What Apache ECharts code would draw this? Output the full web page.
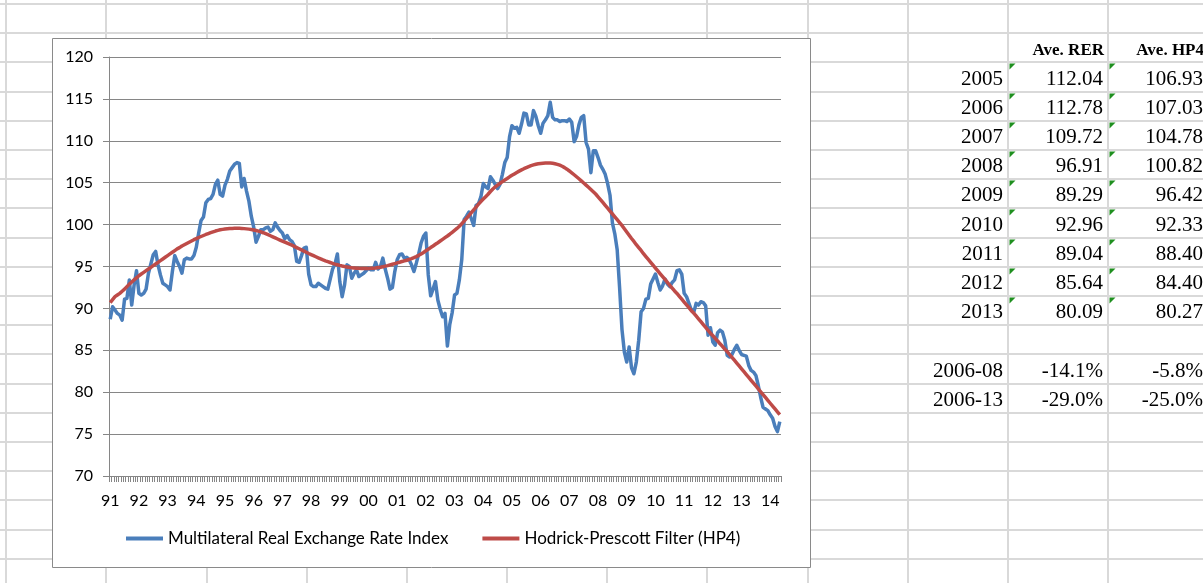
<!DOCTYPE html>
<html>
<head>
<meta charset="utf-8">
<script src="https://cdn.jsdelivr.net/npm/echarts@6/dist/echarts.min.js"></script>
<style>
  html, body { margin: 0; padding: 0; background: #fff; }
  #main { width: 1203px; height: 583px; }
</style>
</head>
<body>
<div id="main"></div>
<script>
// year labels shown on the category axis, one per 12 monthly points
const yearLabels = ['91', '92', '93', '94', '95', '96', '97', '98', '99', '00', '01', '02',
  '03', '04', '05', '06', '07', '08', '09', '10', '11', '12', '13', '14']

// Multilateral Real Exchange Rate Index, monthly from Jan 1991
const rer = [
  88.7, 90.2, 89.8, 89.4, 89.2, 88.6, 91.1, 91.2, 93.4, 90.4, 92.8, 94.5,
  91.8, 91.6, 91.8, 92.3, 94.2, 95.3, 96.4, 96.8, 95.2, 94.0, 93.0, 92.8,
  92.6, 92.2, 94.4, 96.3, 95.6, 95.0, 94.2, 95.8, 96.0, 95.9, 95.9, 96.3,
  97.3, 99.0, 100.5, 100.9, 102.6, 103.0, 103.1, 103.6, 104.8, 105.3, 103.6, 103.4,
  104.7, 105.4, 106.4, 106.8, 107.2, 107.4, 107.3, 104.5, 105.5, 104.0, 102.8, 101.0,
  99.7, 97.9, 98.6, 99.4, 99.4, 99.6, 99.7, 99.2, 99.4, 100.2, 99.7, 99.3,
  99.0, 98.3, 98.7, 98.2, 98.0, 97.5, 95.6, 95.5, 96.3, 97.2, 97.3, 94.1,
  92.8, 92.6, 92.6, 93.0, 92.8, 92.6, 92.4, 92.3, 93.5, 94.7, 95.3, 96.5,
  93.2, 91.4, 92.8, 95.2, 95.0, 93.6, 94.2, 94.6, 93.8, 94.0, 94.2, 94.5,
  94.8, 94.6, 94.6, 95.5, 94.7, 95.0, 96.0, 94.7, 93.6, 92.3, 92.5, 94.4,
  95.8, 96.4, 96.5, 96.0, 96.1, 95.8, 95.2, 94.4, 95.4, 96.5, 97.8, 98.6,
  99.0, 94.0, 91.5, 92.3, 93.2, 91.0, 89.9, 89.0, 89.4, 85.5, 88.1, 89.5,
  91.6, 91.8, 93.4, 95.8, 100.6, 101.0, 101.5, 100.7, 99.9, 102.3, 102.5, 103.3,
  104.9, 104.5, 104.3, 105.7, 105.3, 104.8, 104.3, 104.8, 106.0, 107.4, 108.0, 110.5,
  111.8, 111.5, 111.6, 110.9, 112.0, 113.3, 113.2, 111.9, 111.9, 113.6, 112.9, 111.8,
  110.9, 112.1, 112.5, 113.0, 114.6, 112.8, 112.5, 112.5, 112.3, 112.4, 112.4, 112.3,
  112.6, 112.2, 109.9, 110.5, 111.9, 112.8, 113.0, 109.8, 109.0, 106.2, 108.8, 108.8,
  108.0, 107.1, 106.6, 106.0, 104.9, 103.5, 100.2, 98.9, 97.0, 92.5, 87.5, 84.8,
  83.6, 85.4, 82.9, 82.2, 83.6, 86.2, 89.6, 90.0, 91.1, 91.2, 92.9, 93.5,
  94.1, 93.1, 92.2, 92.7, 93.5, 92.9, 92.6, 93.1, 93.4, 94.5, 94.6, 94.1,
  91.8, 91.4, 90.6, 89.8, 89.5, 90.6, 90.4, 90.8, 90.7, 90.3, 86.8, 87.7,
  86.0, 85.6, 87.1, 87.4, 87.2, 86.2, 84.4, 84.2, 84.5, 85.1, 85.6, 85.0,
  84.5, 84.4, 84.3, 83.2, 82.6, 82.4, 82.0, 80.8, 79.4, 78.2, 78.0, 77.8,
  77.3, 76.9, 75.9, 75.3, 76.5
]

// Hodrick-Prescott Filter (HP4), same months
const hp4 = [
  90.70, 91.05, 91.40, 91.60, 91.80, 92.05, 92.30, 92.60, 92.90, 93.15, 93.40, 93.65,
  93.90, 94.10, 94.30, 94.50, 94.70, 94.90, 95.10, 95.30, 95.50, 95.70, 95.90, 96.10,
  96.30, 96.50, 96.70, 96.90, 97.10, 97.25, 97.45, 97.60, 97.75, 97.90, 98.05, 98.20,
  98.33, 98.46, 98.58, 98.70, 98.82, 98.93, 99.04, 99.14, 99.23, 99.31, 99.38, 99.43,
  99.47, 99.50, 99.53, 99.54, 99.55, 99.55, 99.55, 99.54, 99.52, 99.49, 99.46, 99.42,
  99.36, 99.30, 99.22, 99.13, 99.03, 98.92, 98.80, 98.67, 98.54, 98.41, 98.28, 98.15,
  98.02, 97.90, 97.78, 97.66, 97.54, 97.40, 97.26, 97.12, 96.98, 96.84, 96.70, 96.55,
  96.42, 96.29, 96.16, 96.03, 95.91, 95.79, 95.68, 95.58, 95.48, 95.38, 95.29, 95.21,
  95.13, 95.06, 95.00, 94.95, 94.90, 94.86, 94.83, 94.80, 94.78, 94.77, 94.76, 94.76,
  94.77, 94.78, 94.80, 94.83, 94.87, 94.91, 94.96, 95.04, 95.11, 95.19, 95.27, 95.35,
  95.43, 95.51, 95.59, 95.67, 95.75, 95.84, 95.94, 96.05, 96.18, 96.33, 96.50, 96.68,
  96.87, 97.06, 97.26, 97.45, 97.65, 97.84, 98.04, 98.24, 98.44, 98.64, 98.85, 99.07,
  99.30, 99.54, 99.80, 100.10, 100.42, 100.75, 101.08, 101.42, 101.76, 102.10, 102.44, 102.76,
  103.05, 103.33, 103.62, 103.95, 104.25, 104.50, 104.72, 104.93, 105.13, 105.32, 105.50, 105.70,
  105.88, 106.05, 106.22, 106.38, 106.53, 106.67, 106.80, 106.92, 107.03, 107.12, 107.20, 107.26,
  107.30, 107.33, 107.35, 107.36, 107.34, 107.31, 107.26, 107.19, 107.09, 106.96, 106.80, 106.61,
  106.40, 106.18, 105.95, 105.71, 105.47, 105.22, 104.97, 104.71, 104.45, 104.19, 103.92, 103.65,
  103.32, 102.98, 102.64, 102.30, 101.96, 101.61, 101.27, 100.93, 100.59, 100.25, 99.90, 99.51,
  99.12, 98.73, 98.34, 97.99, 97.60, 97.26, 96.92, 96.53, 96.18, 95.84, 95.50, 95.16,
  94.82, 94.47, 94.13, 93.79, 93.45, 93.11, 92.76, 92.42, 92.08, 91.79, 91.44, 91.10,
  90.76, 90.42, 90.08, 89.73, 89.44, 89.10, 88.76, 88.41, 88.07, 87.73, 87.39, 87.04,
  86.75, 86.41, 86.12, 85.77, 85.48, 85.14, 84.85, 84.50, 84.16, 83.82, 83.48, 83.13,
  82.79, 82.45, 82.11, 81.77, 81.42, 81.08, 80.74, 80.40, 80.05, 79.71, 79.37, 79.03,
  78.68, 78.34, 78.00, 77.66, 77.32
]

// side table
const tableYears = ['2005', '2006', '2007', '2008', '2009', '2010', '2011', '2012', '2013']
const aveRer = ['112.04', '112.78', '109.72', '96.91', '89.29', '92.96', '89.04', '85.64', '80.09']
const aveHp4 = ['106.93', '107.03', '104.78', '100.82', '96.42', '92.33', '88.40', '84.40', '80.27']
const changeLabels = ['2006-08', '2006-13']
const changeRer = ['-14.1%', '-29.0%']
const changeHp4 = ['-5.8%', '-25.0%']

const months = rer.map((_, i) => yearLabels[Math.floor(i / 12)] + '-' + (i % 12 + 1))

const chart = echarts.init(document.getElementById('main'))

// spreadsheet background: cell lines of the sheet
const colX = []
for (let k = 0; k < 13; k++) colX.push(Math.round(6.3 + 100.17 * k))
const rowY = []
for (let k = 0; k < 20; k++) rowY.push(Math.round(4 + 29.2 * k))

const graphics = []
colX.forEach(x => graphics.push({
  type: 'line', z: -30, silent: true,
  shape: { x1: x, y1: 0, x2: x, y2: 583 },
  style: { stroke: '#d9d9d9', lineWidth: 2 }
}))
rowY.forEach(y => graphics.push({
  type: 'line', z: -30, silent: true,
  shape: { x1: 0, y1: y, x2: 1203, y2: y },
  style: { stroke: '#d9d9d9', lineWidth: 2 }
}))

// chart area box
graphics.push({
  type: 'rect', z: -20, silent: true,
  shape: { x: 52.5, y: 38.5, width: 758, height: 529 },
  style: { fill: '#fff', stroke: '#8a8a8a', lineWidth: 1 }
})

const serif = 'Liberation Serif, Times New Roman, serif'
function cellText(text, xRight, yMid, opts) {
  graphics.push({
    type: 'text', z: 5, silent: true,
    style: Object.assign({
      text: text, x: xRight, y: yMid,
      textAlign: 'right', textVerticalAlign: 'middle',
      align: 'right', verticalAlign: 'middle',
      fill: '#000', font: '21px ' + serif
    }, opts || {})
  })
}

const colA = colX[10] - 5
const colB = colX[11] - 5
const colC = colX[12] - 5
cellText('Ave. RER', colB + 1, 51, { font: 'bold 17px ' + serif })
cellText('Ave. HP4', colC + 1, 51, { font: 'bold 17px ' + serif })

tableYears.forEach((yr, i) => {
  const yMid = rowY[3 + i] - 12.4
  cellText(yr, colA, yMid)
  cellText(aveRer[i], colB, yMid)
  cellText(aveHp4[i], colC, yMid)
  const top = rowY[2 + i] + 1.5
  ;[colX[10], colX[11]].forEach(xl => graphics.push({
    type: 'polygon', z: 5, silent: true,
    shape: { points: [[xl + 1.5, top], [xl + 7.5, top], [xl + 1.5, top + 6]] },
    style: { fill: '#1f8f1f' }
  }))
})

changeLabels.forEach((lab, i) => {
  const yMid = rowY[13 + i] - 12.4
  cellText(lab, colA, yMid)
  cellText(changeRer[i], colB, yMid)
  cellText(changeHp4[i], colC, yMid)
})

const sans = 'Lato, Calibri, sans-serif'
const axisGray = '#868686'

const option = {
  animation: false,
  backgroundColor: '#fff',
  textStyle: { fontFamily: sans },
  graphic: graphics,
  legend: {
    left: 126,
    top: 530,
    padding: 0,
    itemGap: 34,
    itemWidth: 37,
    itemHeight: 4,
    icon: 'rect',
    textStyle: { fontFamily: sans, fontSize: 17, color: '#000' },
    data: ['Multilateral Real Exchange Rate Index', 'Hodrick-Prescott Filter (HP4)']
  },
  grid: {
    left: 109,
    right: 1203 - 781,
    top: 57,
    bottom: 583 - 476,
    containLabel: false,
    outerBoundsMode: 'none'
  },
  xAxis: {
    type: 'category',
    data: months,
    boundaryGap: true,
    axisLine: { show: true, lineStyle: { color: axisGray, width: 1 } },
    axisTick: { show: true, interval: 0, length: 6, lineStyle: { color: axisGray } },
    axisLabel: {
      interval: 11,
      margin: 17,
      fontFamily: sans,
      fontSize: 16,
      color: '#000',
      formatter: v => v.slice(0, 2)
    },
    splitLine: { show: false }
  },
  yAxis: {
    type: 'value',
    min: 70,
    max: 120,
    interval: 5,
    axisLine: { show: true, lineStyle: { color: axisGray, width: 1 } },
    axisTick: { show: true, length: 6, lineStyle: { color: axisGray } },
    axisLabel: { margin: 16, fontFamily: sans, fontSize: 16, color: '#000' },
    splitLine: { show: true, lineStyle: { color: axisGray, width: 1 } }
  },
  series: [
    {
      name: 'Multilateral Real Exchange Rate Index',
      type: 'line',
      data: rer,
      symbol: 'none',
      lineStyle: { color: '#4a7ebb', width: 3.5, join: 'round' },
      itemStyle: { color: '#4a7ebb' }
    },
    {
      name: 'Hodrick-Prescott Filter (HP4)',
      type: 'line',
      data: hp4,
      symbol: 'none',
      lineStyle: { color: '#be4b48', width: 3.5, join: 'round' },
      itemStyle: { color: '#be4b48' }
    }
  ]
}

chart.setOption(option)
</script>
</body>
</html>
